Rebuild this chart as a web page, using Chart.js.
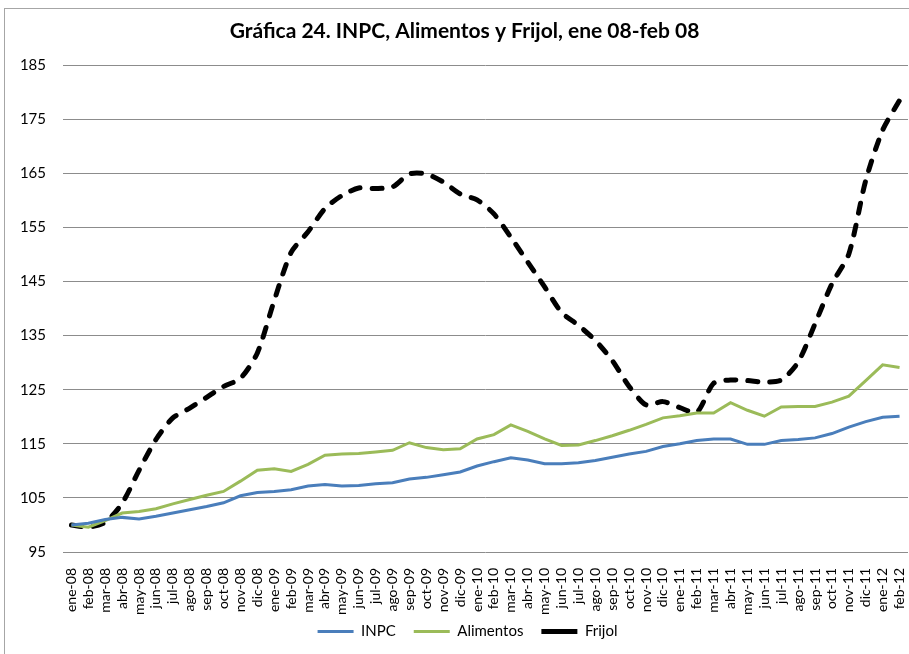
<!DOCTYPE html>
<html>
<head>
<meta charset="utf-8">
<script src="https://cdn.jsdelivr.net/npm/chart.js@4/dist/chart.umd.min.js"></script>
<style>
  html, body { margin: 0; padding: 0; background: #fff; }
  #wrap { position: relative; width: 909px; height: 654px; }
  #frame { position: absolute; left: 4px; top: 8px; width: 920px; height: 660px; border: 1px solid #a6a6a6; box-sizing: border-box; pointer-events: none; }
</style>
</head>
<body>
<div id="wrap">
  <canvas id="chart" width="909" height="654"></canvas>
  <div id="frame"></div>
</div>
<script>
// categories: ene-08 .. feb-12
var months = ['ene', 'feb', 'mar', 'abr', 'may', 'jun', 'jul', 'ago', 'sep', 'oct', 'nov', 'dic'];
var years = ['08', '09', '10', '11', '12'];
var labels = [];
years.forEach(function(y) {
  months.forEach(function(m) {
    if (labels.length < 50) labels.push(m + '-' + y);
  });
});

var inpc = [100, 100.3, 101.0, 101.4, 101.1, 101.6, 102.2, 102.8, 103.4, 104.1,
  105.4, 106.0, 106.2, 106.5, 107.2, 107.5, 107.2, 107.3, 107.6, 107.8,
  108.5, 108.8, 109.3, 109.8, 110.9, 111.7, 112.4, 112.0, 111.3, 111.3,
  111.5, 111.9, 112.5, 113.1, 113.6, 114.5, 115.0, 115.6, 115.9, 115.9,
  114.9, 114.9, 115.6, 115.8, 116.1, 116.9, 118.1, 119.1, 119.9, 120.1];

var alimentos = [100, 99.6, 100.8, 102.2, 102.5, 103.0, 103.9, 104.7, 105.5, 106.2,
  108.1, 110.1, 110.4, 109.9, 111.2, 112.9, 113.1, 113.2, 113.5, 113.8,
  115.2, 114.3, 113.9, 114.1, 115.9, 116.7, 118.5, 117.3, 115.9, 114.7,
  114.8, 115.6, 116.5, 117.5, 118.6, 119.8, 120.2, 120.7, 120.7, 122.6,
  121.2, 120.1, 121.8, 121.9, 121.9, 122.7, 123.8, 126.7, 129.6, 129.1];

var frijol = [100, 99.6, 100.5, 104.0, 110.1, 115.8, 119.8, 121.6, 123.6, 125.6,
  127.1, 131.8, 141.5, 150.4, 154.2, 158.5, 160.9, 162.3, 162.2, 162.5,
  164.9, 164.9, 163.4, 161.2, 160.1, 157.5, 153.2, 148.6, 144.0, 139.3,
  136.9, 134.1, 130.4, 125.6, 122.2, 122.8, 121.7, 120.8, 126.2, 126.8,
  126.7, 126.4, 126.8, 130.1, 137.2, 144.6, 150.1, 163.7, 173.0, 178.5];

var yMin = 95, yMax = 185, yStep = 10;

var fontFam = 'Lato, "Open Sans", sans-serif';

// nudge title and legend to where the original sits
var nudge = {
  id: 'nudge',
  afterLayout: function(chart) {
    var t = chart.titleBlock, l = chart.legend;
    t.left += 8; t.right += 8;
    l.left += 11; l.right += 11;
    l.top -= 8; l.bottom -= 8;
  }
};

var chart = new Chart(document.getElementById('chart'), {
  type: 'line',
  data: {
    labels: labels,
    datasets: [{
      label: 'INPC',
      data: inpc,
      borderColor: '#4a7ebb',
      backgroundColor: '#4a7ebb',
      borderWidth: 3,
      pointRadius: 0,
      tension: 0
    }, {
      label: 'Alimentos',
      data: alimentos,
      borderColor: '#9bbb59',
      backgroundColor: '#9bbb59',
      borderWidth: 3,
      pointRadius: 0,
      tension: 0
    }, {
      label: 'Frijol',
      data: frijol,
      borderColor: '#000',
      backgroundColor: '#000',
      borderWidth: 5,
      borderDash: [10, 12],
      borderCapStyle: 'round',
      pointRadius: 0,
      tension: 0.25
    }]
  },
  plugins: [nudge],
  options: {
    responsive: false,
    animation: false,
    layout: { padding: { left: 5, right: 1, top: 10, bottom: 0 } },
    plugins: {
      title: {
        display: true,
        text: 'Gráfica 24. INPC, Alimentos y Frijol, ene 08-feb 08',
        color: '#000',
        font: { family: fontFam, size: 21, weight: 'bold' },
        padding: { top: 9, bottom: 21 }
      },
      legend: {
        position: 'bottom',
        maxHeight: 40,
        labels: {
          color: '#000',
          font: { family: fontFam, size: 15 },
          usePointStyle: true,
          pointStyle: 'line',
          pointStyleWidth: 36,
          padding: 18
        }
      },
      tooltip: { enabled: false }
    },
    scales: {
      x: {
        offset: true,
        grid: { display: false },
        border: { display: false },
        ticks: {
          color: '#000',
          font: { family: fontFam, size: 14 },
          minRotation: 90,
          maxRotation: 90,
          autoSkip: false,
          padding: 8
        },
        afterFit: function(scale) {
          scale.height = 62;
          scale.paddingLeft = 0;
          scale.paddingRight = 0;
        }
      },
      y: {
        min: yMin,
        max: yMax,
        grid: { color: '#8c8c8c', lineWidth: 1, drawTicks: false },
        border: { display: false },
        ticks: {
          stepSize: yStep,
          color: '#000',
          font: { family: fontFam, size: 15 },
          padding: 17
        },
        afterFit: function(scale) { scale.width = 58; }
      }
    }
  }
});
</script>
</body>
</html>
